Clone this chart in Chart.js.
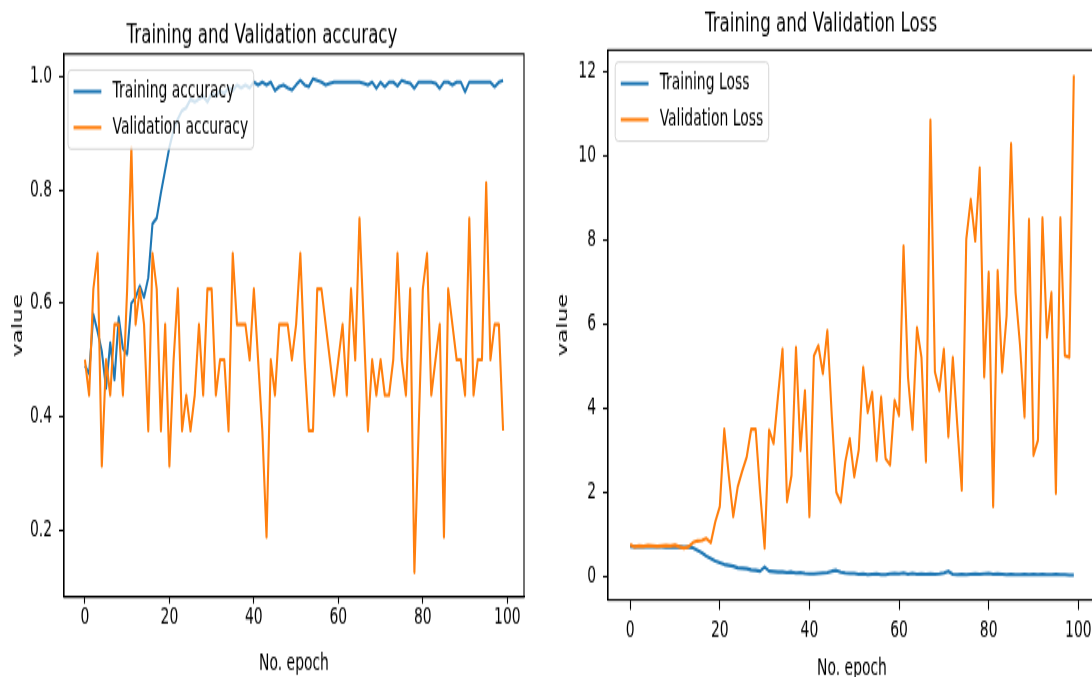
<!DOCTYPE html>
<html>
<head>
<meta charset="utf-8">
<script src="https://cdn.jsdelivr.net/npm/chart.js@4.4.0/dist/chart.umd.min.js"></script>
<style>
  html, body { margin: 0; padding: 0; background: #fff; overflow: hidden; }
  /* the reference figure is stretched vertically, so each panel is drawn flat and scaled */
  .panel { position: absolute; top: 0; transform-origin: 0 0; transform: scaleY(1.65); }
  #left_panel { left: 0; width: 546px; height: 411px; }
  #right_panel { left: 546px; width: 570px; height: 411px; }
</style>
</head>
<body>
<div id="left_panel" class="panel"><canvas id="acc_chart" width="546" height="411"></canvas></div>
<div id="right_panel" class="panel"><canvas id="loss_chart" width="570" height="411"></canvas></div>
<script>
var epochs = [];
for (let i = 0; i < 100; i++) epochs.push(i);

var xTicks = [0, 20, 40, 60, 80, 100];
var accTicks = [0.2, 0.4, 0.6, 0.8, 1.0];
var lossTicks = [0, 2, 4, 6, 8, 10, 12];

var trainAcc = [
  0.49, 0.475, 0.58, 0.55, 0.515, 0.45, 0.53, 0.465, 0.575, 0.52,
  0.51, 0.60, 0.61, 0.63, 0.61, 0.645, 0.74, 0.75, 0.795, 0.835,
  0.875, 0.905, 0.925, 0.94, 0.945, 0.96, 0.955, 0.96, 0.965, 0.955,
  0.97, 0.965, 0.975, 0.97, 0.98, 0.975, 0.985, 0.98, 0.985, 0.98,
  0.99, 0.985, 0.99, 0.985, 0.99, 0.975, 0.982, 0.985, 0.98, 0.976,
  0.985, 0.993, 0.985, 0.982, 0.996, 0.993, 0.99, 0.985, 0.988, 0.99,
  0.99, 0.99, 0.99, 0.99, 0.99, 0.99, 0.988, 0.985, 0.99, 0.979,
  0.99, 0.982, 0.99, 0.99, 0.983, 0.993, 0.99, 0.988, 0.979, 0.99,
  0.99, 0.99, 0.99, 0.988, 0.979, 0.99, 0.99, 0.985, 0.99, 0.99,
  0.973, 0.99, 0.99, 0.99, 0.99, 0.99, 0.99, 0.982, 0.99, 0.993
];
var valAcc = [
  0.5, 0.4375, 0.625, 0.6875, 0.3125, 0.5, 0.4375, 0.5625, 0.5625, 0.4375,
  0.625, 0.875, 0.5625, 0.625, 0.5625, 0.375, 0.6875, 0.625, 0.375, 0.5625,
  0.3125, 0.5, 0.625, 0.375, 0.4375, 0.375, 0.4375, 0.5625, 0.4375, 0.625,
  0.625, 0.4375, 0.5, 0.5, 0.375, 0.6875, 0.5625, 0.5625, 0.5625, 0.5,
  0.625, 0.5, 0.375, 0.1875, 0.5, 0.4375, 0.5625, 0.5625, 0.5625, 0.5,
  0.5625, 0.6875, 0.5, 0.375, 0.375, 0.625, 0.625, 0.5625, 0.5, 0.4375,
  0.5, 0.5625, 0.4375, 0.625, 0.5, 0.75, 0.5625, 0.375, 0.5, 0.4375,
  0.5, 0.4375, 0.4375, 0.5, 0.6875, 0.5, 0.4375, 0.625, 0.125, 0.375,
  0.625, 0.6875, 0.4375, 0.5, 0.5625, 0.1875, 0.625, 0.5625, 0.5, 0.5,
  0.4375, 0.75, 0.4375, 0.5, 0.5, 0.8125, 0.5, 0.5625, 0.5625, 0.375
];
var trainLoss = [
  0.71, 0.70, 0.70, 0.71, 0.70, 0.70, 0.70, 0.70, 0.69, 0.70,
  0.69, 0.70, 0.69, 0.69, 0.68, 0.62, 0.56, 0.48, 0.42, 0.36,
  0.32, 0.28, 0.26, 0.24, 0.20, 0.19, 0.18, 0.15, 0.14, 0.12,
  0.22, 0.12, 0.11, 0.10, 0.10, 0.09, 0.10, 0.08, 0.09, 0.07,
  0.06, 0.06, 0.07, 0.08, 0.09, 0.12, 0.14, 0.10, 0.08, 0.07,
  0.07, 0.05, 0.06, 0.04, 0.05, 0.06, 0.04, 0.04, 0.06, 0.07,
  0.06, 0.08, 0.05, 0.07, 0.05, 0.06, 0.05, 0.06, 0.05, 0.06,
  0.08, 0.12, 0.05, 0.04, 0.05, 0.04, 0.05, 0.06, 0.05, 0.06,
  0.07, 0.05, 0.06, 0.05, 0.04, 0.05, 0.04, 0.04, 0.05, 0.04,
  0.05, 0.04, 0.05, 0.04, 0.04, 0.05, 0.04, 0.04, 0.03, 0.03
];
var valLoss = [
  0.75, 0.70, 0.72, 0.71, 0.73, 0.72, 0.71, 0.72, 0.73, 0.72,
  0.74, 0.70, 0.67, 0.70, 0.80, 0.84, 0.85, 0.90, 0.80, 1.30,
  1.66, 3.50, 2.40, 1.42, 2.13, 2.50, 2.84, 3.50, 3.50, 2.00,
  0.67, 3.48, 3.16, 4.30, 5.41, 1.78, 2.40, 5.45, 3.00, 4.42,
  1.42, 5.25, 5.49, 4.82, 5.85, 3.80, 2.00, 1.76, 2.72, 3.28,
  2.37, 3.00, 4.98, 3.90, 4.38, 2.76, 4.27, 2.80, 2.65, 4.19,
  3.83, 7.86, 4.74, 3.50, 5.92, 5.21, 2.73, 10.86, 4.86, 4.42,
  5.41, 3.32, 5.21, 3.60, 2.05, 8.02, 8.97, 7.98, 9.72, 4.74,
  7.23, 1.66, 7.27, 4.86, 6.20, 10.30, 6.75, 5.49, 3.79, 8.49,
  2.88, 3.24, 8.53, 5.69, 6.75, 1.97, 8.53, 5.25, 5.21, 11.93
];

var BLUE = "#1f77b4", ORANGE = "#ff7f0e";
var FONT = "'DejaVu Sans', sans-serif";

// matplotlib style: 5% margin around the data
function paddedRange(lists) {
  let all = [].concat(...lists);
  let lo = Math.min(...all), hi = Math.max(...all);
  let m = (hi - lo) * 0.05;
  return [lo - m, hi + m];
}

function points(values) {
  return values.map((v, i) => ({x: epochs[i], y: v}));
}

// top and right spines
var framePlugin = {
  id: "frame",
  afterDatasetsDraw(chart) {
    let a = chart.chartArea, ctx = chart.ctx;
    ctx.save();
    ctx.strokeStyle = "#000";
    ctx.lineWidth = 1.1;
    ctx.strokeRect(a.left, a.top, a.right - a.left, a.bottom - a.top);
    ctx.restore();
  }
};

// boxed legend in the upper left corner, like matplotlib's
var boxLegend = {
  id: "boxLegend",
  afterDraw(chart, args, opts) {
    let ctx = chart.ctx, a = chart.chartArea;
    let fs = 13.9;
    let sets = chart.data.datasets;
    ctx.save();
    ctx.font = fs + "px " + FONT;
    let textW = Math.max(...sets.map(d => ctx.measureText(d.label).width));
    let pad = 0.4 * fs, handle = 2 * fs, gap = 0.8 * fs, rowH = 14.9, spacing = 0.5 * fs;
    let w = pad + handle + gap + textW + pad;
    let h = 2 * pad + rowH * sets.length + spacing * (sets.length - 1);
    let x0 = a.left + opts.dx, y0 = a.top + opts.dy;
    ctx.beginPath();
    ctx.roundRect(x0, y0, w, h, 3);
    ctx.fillStyle = "rgba(255,255,255,0.8)";
    ctx.fill();
    ctx.strokeStyle = "rgba(204,204,204,0.8)";
    ctx.lineWidth = 1;
    ctx.stroke();
    sets.forEach((d, i) => {
      let cy = y0 + pad + rowH / 2 + i * (rowH + spacing);
      ctx.strokeStyle = d.borderColor;
      ctx.lineWidth = d.borderWidth;
      ctx.beginPath();
      ctx.moveTo(x0 + pad, cy);
      ctx.lineTo(x0 + pad + handle, cy);
      ctx.stroke();
      ctx.fillStyle = "#000";
      ctx.textAlign = "left";
      ctx.textBaseline = "middle";
      ctx.fillText(d.label, x0 + pad + handle + gap, cy);
    });
    ctx.restore();
  }
};

function drawPanel(canvasId, cfg) {
  let ctx = document.getElementById(canvasId).getContext("2d");
  let yRange = paddedRange([cfg.train, cfg.val]);
  let tickFont = {family: FONT, size: 13.9};
  return new Chart(ctx, {
    type: "line",
    data: {
      datasets: [{
        label: cfg.names[0],
        data: points(cfg.train),
        borderColor: BLUE,
        borderWidth: 2.1,
        pointRadius: 0,
        borderJoinStyle: "round",
        order: 1
      }, {
        label: cfg.names[1],
        data: points(cfg.val),
        borderColor: ORANGE,
        borderWidth: 2.1,
        pointRadius: 0,
        borderJoinStyle: "round",
        order: 0
      }]
    },
    options: {
      responsive: false,
      animation: false,
      devicePixelRatio: 1,
      layout: {padding: {left: 0, right: cfg.padRight, top: 0, bottom: 0}},
      scales: {
        x: {
          type: "linear",
          min: -4.95,
          max: 103.95,
          afterBuildTicks: s => { s.ticks = xTicks.map(v => ({value: v})); },
          afterFit: s => { s.height = cfg.xAxisH; },
          ticks: {color: "#000", font: tickFont, padding: cfg.xPad, maxRotation: 0, autoSkip: false,
                  callback: v => String(v)},
          grid: {display: true, drawOnChartArea: false, drawTicks: true, tickLength: cfg.xTickLen,
                 tickWidth: 1.1, tickColor: "#000"},
          border: {display: true, color: "#000", width: 1.1},
          title: {display: true, text: "No. epoch", color: "#000", font: tickFont,
                  padding: {top: 0, bottom: cfg.xTitlePad}}
        },
        y: {
          type: "linear",
          min: yRange[0],
          max: yRange[1],
          afterBuildTicks: s => { s.ticks = cfg.yTicks.map(v => ({value: v})); },
          afterFit: s => { s.width = cfg.yAxisW; },
          ticks: {color: "#000", font: tickFont, padding: 7, autoSkip: false, callback: cfg.yFormat},
          grid: {display: true, drawOnChartArea: false, drawTicks: true, tickLength: 5,
                 tickWidth: 1.1, tickColor: "#000"},
          border: {display: true, color: "#000", width: 1.1},
          title: {display: true, text: "value", color: "#000", font: tickFont,
                  padding: {top: cfg.yTitlePad, bottom: 0}}
        }
      },
      plugins: {
        legend: {display: false},
        tooltip: {enabled: false},
        title: {
          display: true,
          text: cfg.title,
          color: "#000",
          font: {family: FONT, size: 16.7, weight: "normal", lineHeight: 1.2},
          padding: {top: cfg.titleTop, bottom: cfg.titleBottom}
        },
        boxLegend: {dx: cfg.legendDx, dy: cfg.legendDy}
      }
    },
    plugins: [framePlugin, boxLegend]
  });
}

function init() {
  drawPanel("acc_chart", {
    title: "Training and Validation accuracy",
    names: ["Training accuracy", "Validation accuracy"],
    train: trainAcc,
    val: valAcc,
    yTicks: accTicks,
    yFormat: v => v.toFixed(1),
    padRight: 22,
    yAxisW: 64,
    xAxisH: 49.2,
    xPad: 0,
    xTickLen: 4,
    xTitlePad: 0,
    yTitlePad: 9.7,
    titleTop: 11.2,
    titleBottom: 1.5,
    legendDx: 4,
    legendDy: 9.7
  });
  drawPanel("loss_chart", {
    title: "Training and Validation Loss",
    names: ["Training Loss", "Validation Loss"],
    train: trainLoss,
    val: valLoss,
    yTicks: lossTicks,
    yFormat: v => String(v),
    padRight: 20,
    yAxisW: 62,
    xAxisH: 47.4,
    xPad: 4.5,
    xTickLen: 6,
    xTitlePad: -2.4,
    yTitlePad: 8.7,
    titleTop: 4.5,
    titleBottom: 5.8,
    legendDx: 7.2,
    legendDy: 7.3
  });
}

window.onload = init;
</script>
</body>
</html>
